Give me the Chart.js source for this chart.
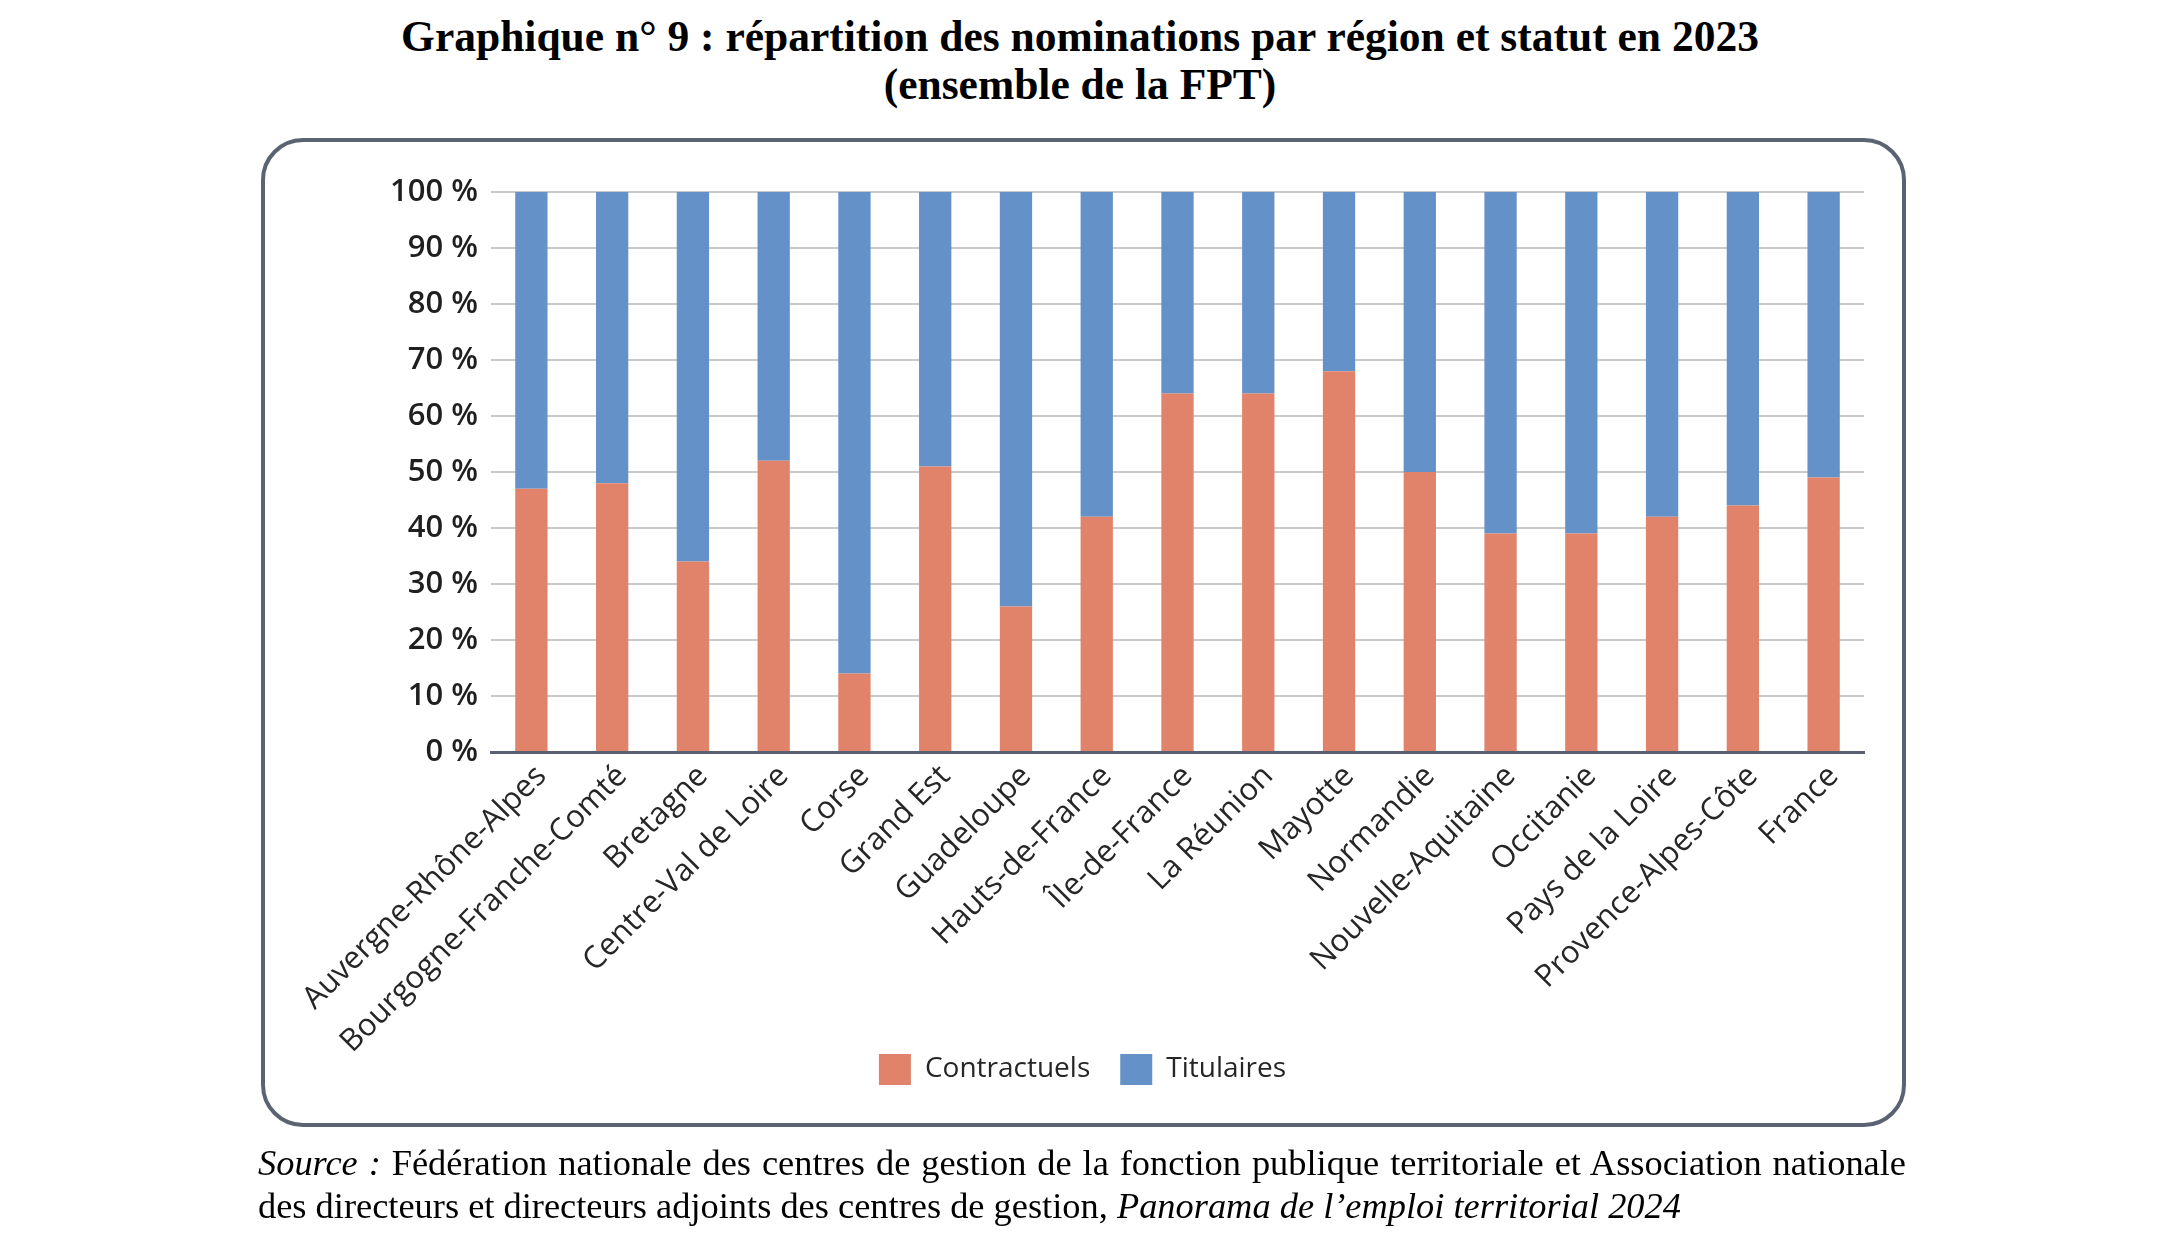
<!DOCTYPE html>
<html lang="fr">
<head>
<meta charset="utf-8">
<script src="https://cdn.jsdelivr.net/npm/chart.js@4/dist/chart.umd.min.js"></script>
<style>
  html, body { margin:0; padding:0; background:#fff; }
  #page { position:relative; width:2160px; height:1245px; overflow:hidden; background:#fff; }
  #chartWrap { position:absolute; left:0; top:0; width:2160px; height:1245px; }
  #frame { position:absolute; left:261px; top:138px; width:1645px; height:989px; box-sizing:border-box;
           border:4px solid #5b6372; border-radius:42px; pointer-events:none; }
  #title { position:absolute; left:0; top:12px; width:2160px; text-align:center;
           font-family:"Liberation Serif","Times New Roman",serif; font-weight:bold; font-size:43.5px; line-height:48px; color:#000; }
  #source { position:absolute; left:258px; top:1142px; width:1648px;
            font-family:"Liberation Serif","Times New Roman",serif; font-size:36.4px; line-height:43px; color:#000; }
  #source .l1 { text-align:justify; text-align-last:justify; white-space:nowrap; }
</style>
</head>
<body>
<div id="page">
  <div id="title">Graphique n° 9 : répartition des nominations par région et statut en 2023<br>(ensemble de la FPT)</div>
  <div id="frame"></div>
  <div id="chartWrap"><canvas id="c"></canvas></div>
  <div id="source">
    <div class="l1"><i>Source :</i> Fédération nationale des centres de gestion de la fonction publique territoriale et Association nationale</div>
    <div>des directeurs et directeurs adjoints des centres de gestion, <i>Panorama de l’emploi territorial 2024</i></div>
  </div>
</div>
<script>
const regions = ["Auvergne-Rhône-Alpes","Bourgogne-Franche-Comté","Bretagne","Centre-Val de Loire","Corse","Grand Est","Guadeloupe","Hauts-de-France","Île-de-France","La Réunion","Mayotte","Normandie","Nouvelle-Aquitaine","Occitanie","Pays de la Loire","Provence-Alpes-Côte","France"];
const contractuels = [47, 48, 34, 52, 14, 51, 26, 42, 64, 64, 68, 50, 39, 39, 42, 44, 49];
const titulaires   = [53, 52, 66, 48, 86, 49, 74, 58, 36, 36, 32, 50, 61, 61, 58, 56, 51];
const yTicks = [0, 10, 20, 30, 40, 50, 60, 70, 80, 90, 100];
const seriesNames = ["Contractuels", "Titulaires"];

const ORANGE = "#e1826a";
const BLUE = "#6591c9";

// Let the rotated category labels run past the bottom of the x-scale box
// (the legend sits closer to the axis than the labels' full extent).
const noLabelClip = {
  id: "noLabelClip",
  afterLayout(chart) {
    const sx = chart.scales.x;
    if (sx) { sx._computeLabelArea = function () { return undefined; }; }
  }
};

new Chart(document.getElementById("c"), {
  type: "bar",
  data: {
    labels: regions,
    datasets: [
      { label: seriesNames[0], data: contractuels, backgroundColor: ORANGE, borderWidth: 0 },
      { label: seriesNames[1], data: titulaires, backgroundColor: BLUE, borderWidth: 0 }
    ]
  },
  plugins: [noLabelClip],
  options: {
    responsive: true,
    maintainAspectRatio: false,
    animation: false,
    devicePixelRatio: 1,
    layout: { padding: { left: 301, right: 296, top: 192, bottom: 150 } },
    datasets: { bar: { barPercentage: 0.4, categoryPercentage: 1.0 } },
    plugins: {
      title: { display: false },
      tooltip: { enabled: false },
      legend: {
        display: true,
        position: "bottom",
        labels: {
          boxWidth: 32, boxHeight: 31, padding: 30,
          color: "#262626",
          font: { family: "'Open Sans', sans-serif", size: 28 }
        }
      }
    },
    scales: {
      x: {
        stacked: true,
        grid: { display: false, drawTicks: false },
        border: { display: true, color: "#5a6070", width: 3 },
        ticks: {
          autoSkip: false, maxRotation: 45, minRotation: 45, padding: 6, labelOffset: 10,
          color: "#262626",
          font: { family: "'Open Sans', sans-serif", size: 31 }
        },
        afterFit: (s) => { s.height = 272; }
      },
      y: {
        stacked: true,
        min: 0, max: 100,
        afterBuildTicks: (s) => { s.ticks = yTicks.map(v => ({ value: v })); },
        grid: { color: "#c9c9c9", lineWidth: 2, drawTicks: false },
        border: { display: false },
        ticks: {
          padding: 13,
          color: "#1f1f1f",
          font: { family: "'Open Sans', sans-serif", size: 31, weight: "600" },
          callback: (v) => v + " %"
        },
        afterFit: (s) => { s.width = 190; }
      }
    }
  }
});
</script>
</body>
</html>
